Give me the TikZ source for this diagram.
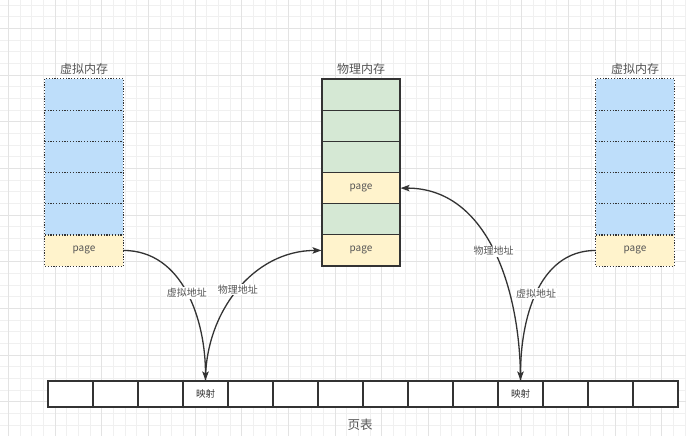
\documentclass[tikz,border=0pt]{standalone}
\usepackage{fontspec}
\setmainfont{Noto Sans CJK SC}
\usepackage{xcolor}
\usetikzlibrary{arrows.meta}

\definecolor{virtblue}{RGB}{190,222,250}
\definecolor{physgreen}{RGB}{213,232,212}
\definecolor{pageyellow}{RGB}{255,243,204}
\definecolor{linegray}{RGB}{51,51,51}
\definecolor{textgray}{RGB}{85,85,85}

\begin{document}
\begin{tikzpicture}[x=1pt, y=-1pt,
    gridminor/.style={draw=gray!12, line width=0.6pt},
    gridmajor/.style={draw=gray!22, line width=0.6pt},
    vcell/.style={fill=virtblue,
        minimum width=78pt, minimum height=31.17pt, inner sep=0pt,
        font=\fontsize{10}{12}\selectfont, text=textgray},
    vpage/.style={vcell, fill=pageyellow},
    vline/.style={draw=linegray, line width=1.2pt, dash pattern=on 1.2pt off 1.6pt},
    pgreen/.style={draw=linegray, line width=1.1pt, fill=physgreen,
        minimum width=78pt, minimum height=31.17pt, inner sep=0pt,
        font=\fontsize{10}{12}\selectfont, text=textgray},
    pyellow/.style={pgreen, fill=pageyellow},
    tcell/.style={draw=linegray, line width=1.1pt, fill=white,
        minimum width=45pt, minimum height=26pt, inner sep=0pt,
        font=\fontsize{9.5}{11}\selectfont, text=linegray},
    title/.style={font=\fontsize{12}{14}\selectfont, text=textgray},
    link/.style={draw=linegray, line width=1.3pt, -{Stealth[length=9pt, width=6.5pt, inset=2pt]}},
    lbl/.style={fill=white, inner sep=1pt, font=\fontsize{10}{12}\selectfont, text=textgray}]

    \useasboundingbox (0,0) rectangle (686,436);
    \fill[white] (0,0) rectangle (686,436);

    % background grid
    \foreach \i in {0,...,58}
        \draw[gridminor] (8.33+11.667*\i,0) -- (8.33+11.667*\i,436);
    \foreach \j in {0,...,37}
        \draw[gridminor] (0,5+11.667*\j) -- (686,5+11.667*\j);
    \foreach \i in {0,...,14}
        \draw[gridmajor] (8.33+46.667*\i,0) -- (8.33+46.667*\i,436);
    \foreach \j in {0,...,9}
        \draw[gridmajor] (0,28.33+46.667*\j) -- (686,28.33+46.667*\j);

    % virtual memory, left
    \node[title] (vtitle) at (84,69) {虚拟内存};
    \foreach \i in {1,...,5}
        \node[vcell] (v\i) at (84,63.42+31.17*\i) {};
    \node[vpage] (v6) at (84,250.44) {page};
    \foreach \i in {1,...,5}
        \draw[vline] (v\i.south west) -- (v\i.south east);
    \draw[vline] (v1.north west) rectangle (v6.south east);

    % physical memory
    \node[title] (ptitle) at (361,69) {物理内存};
    \foreach \i/\s/\t in {1/pgreen/,2/pgreen/,3/pgreen/,4/pyellow/page,5/pgreen/,6/pyellow/page}
        \node[\s] (p\i) at (361,63.42+31.17*\i) {\t};

    % virtual memory, right
    \node[title] (wtitle) at (635,69) {虚拟内存};
    \foreach \i in {1,...,5}
        \node[vcell] (w\i) at (635,63.42+31.17*\i) {};
    \node[vpage] (w6) at (635,250.44) {page};
    \foreach \i in {1,...,5}
        \draw[vline] (w\i.south west) -- (w\i.south east);
    \draw[vline] (w1.north west) rectangle (w6.south east);

    % page table
    \foreach \i in {1,...,14}
        \node[tcell] (t\i) at (25.5+45*\i,394) {\ifnum\i=4 映射\fi\ifnum\i=11 映射\fi};
    \node[title, font=\fontsize{12.5}{14}\selectfont] (tlabel) at (360,425) {页表};

    \draw[link] (v6.east) to[out=0, in=90] node[lbl] {虚拟地址} (t4.north);
    \draw[link] (t4.north) to[out=90, in=180] node[lbl] {物理地址} (p6.west);
    \draw[link] (t11.north) to[out=90, in=0] node[lbl] {物理地址} (p4.east);
    \draw[link] (w6.west) to[out=180, in=90] node[lbl] {虚拟地址} (t11.north);
\end{tikzpicture}
\end{document}
